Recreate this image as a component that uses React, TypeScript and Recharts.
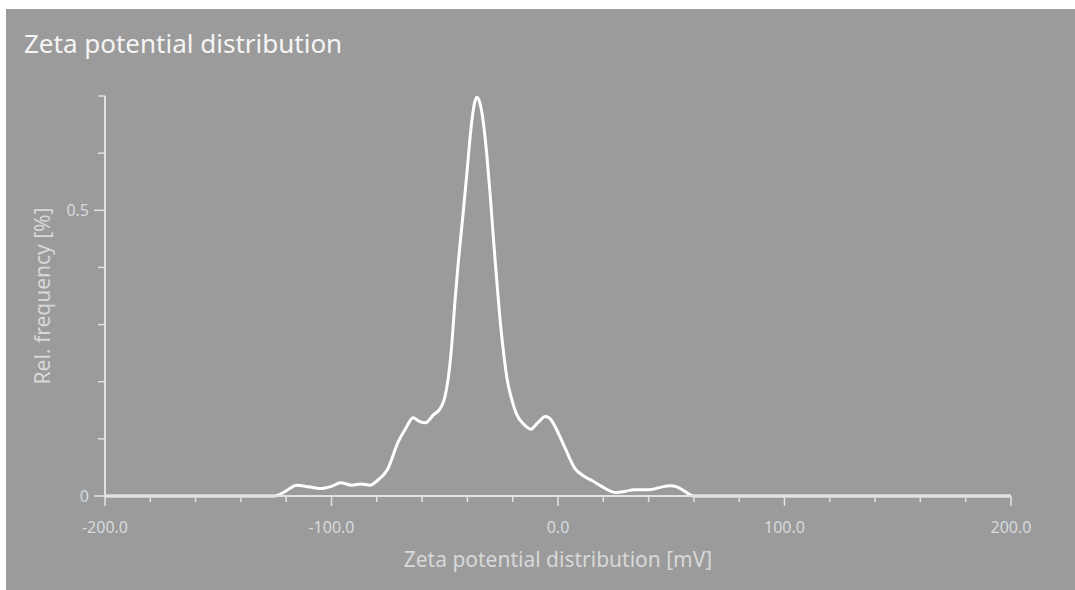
import React from 'react'
import { LineChart, Line, XAxis, YAxis } from 'recharts'

// zeta potential [mV] vs relative frequency [%]
const zeta = [
  -200, -125, -120, -115.5, -110, -105, -100, -96, -91, -87, -83, -79.5, -75.5, -70.5, -67, -64, -61, -58.5,
  -55, -52, -50, -48.5, -47, -45.5, -44, -42, -40, -38.5, -37, -35.8, -34.5, -33, -31.5, -30, -28.5, -27, -25.5,
  -24, -22.5, -20.5, -18.5, -15, -12, -9, -5.5, -3, -0.5, 3, 7.5, 11, 15, 20, 25.5, 29.5, 33.5, 38, 42, 46, 49.5,
  52.5, 56, 60, 200,
]
const freq = [
  0, 0, 0.009, 0.019, 0.016, 0.013, 0.017, 0.023, 0.019, 0.021, 0.019, 0.028, 0.045, 0.095, 0.12, 0.137, 0.13, 0.128,
  0.142, 0.153, 0.172, 0.205, 0.26, 0.34, 0.41, 0.49, 0.575, 0.64, 0.685, 0.698, 0.688, 0.655, 0.6, 0.53, 0.45, 0.375, 0.305,
  0.25, 0.205, 0.17, 0.145, 0.125, 0.117, 0.128, 0.139, 0.133, 0.115, 0.085, 0.048, 0.036, 0.027, 0.015, 0.006, 0.008, 0.011, 0.011, 0.012, 0.016, 0.018,
  0.016, 0.008, 0, 0,
]
const xTicks = [
  -200, -180, -160, -140, -120, -100, -80, -60, -40, -20, 0, 20, 40, 60, 80, 100, 120, 140, 160, 180, 200,
]
const xMajor = [-200, -100, 0, 100, 200]
const yTicks = [0, 0.1, 0.2, 0.3, 0.4, 0.5, 0.6, 0.7]
const yMajor = [0, 0.5]

const data = zeta.map((z, i) => ({ zeta: z, freq: freq[i] }))

const FONT = '"Noto Sans", "Open Sans", sans-serif'
const AXIS = '#e2e2e2'
const TICK_TEXT = '#d6dade'

function XTick({ x, y, payload }: any) {
  const major = xMajor.includes(payload.value)
  return (
    <g>
      <line x1={x} x2={x} y1={y} y2={y + (major ? 10 : 6)} stroke={AXIS} strokeWidth={1.5} />
      {major && (
        <text x={x} y={y + 37} textAnchor="middle" fill={TICK_TEXT} fontSize={16} fontFamily={FONT}>
          {payload.value.toFixed(1)}
        </text>
      )}
    </g>
  )
}

function YTick({ x, y, payload }: any) {
  const major = yMajor.includes(payload.value)
  return (
    <g>
      <line x1={x - (major ? 11 : 7)} x2={x} y1={y} y2={y} stroke={AXIS} strokeWidth={1.5} />
      {major && (
        <text x={x - 16} y={y + 6} textAnchor="end" fill={TICK_TEXT} fontSize={16} fontFamily={FONT}>
          {payload.value === 0 ? '0' : String(payload.value)}
        </text>
      )}
    </g>
  )
}

export default function App() {
  return (
    <div style={{ position: 'absolute', left: 0, top: 0, width: 1075, height: 590, background: '#ffffff', overflow: 'hidden' }}>
      <div style={{ position: 'absolute', left: 6, top: 9, width: 1069, height: 581, background: '#9b9b9b' }}>
        <div style={{ position: 'absolute', left: 18, top: 21, fontFamily: FONT, fontSize: 26, color: '#f5f5f5', lineHeight: 1 }}>
          Zeta potential distribution
        </div>
        <LineChart width={1069} height={581} data={data} margin={{ top: 87, right: 64, left: 0, bottom: 0 }}>
          <XAxis
            dataKey="zeta"
            type="number"
            domain={[-200, 200]}
            ticks={xTicks}
            interval={0}
            tickLine={false}
            tickSize={0}
            tickMargin={0}
            tick={<XTick />}
            axisLine={{ stroke: AXIS, strokeWidth: 2 }}
            height={94}
            label={{ value: 'Zeta potential distribution [mV]', position: 'insideBottom', offset: 23, fill: '#d8d8d8', fontSize: 21, fontFamily: FONT }}
          />
          <YAxis
            type="number"
            domain={[0, 0.7]}
            ticks={yTicks}
            interval={0}
            tickLine={false}
            tickSize={0}
            tickMargin={0}
            tick={<YTick />}
            axisLine={{ stroke: AXIS, strokeWidth: 2 }}
            width={99}
            label={{ value: 'Rel. frequency [%]', angle: -90, position: 'insideLeft', offset: 37, fill: '#d8d8d8', fontSize: 21, fontFamily: FONT, style: { textAnchor: 'middle' } }}
          />
          <Line type="monotone" dataKey="freq" stroke="#ffffff" strokeWidth={3} dot={false} isAnimationActive={false} />
        </LineChart>
      </div>
    </div>
  )
}
